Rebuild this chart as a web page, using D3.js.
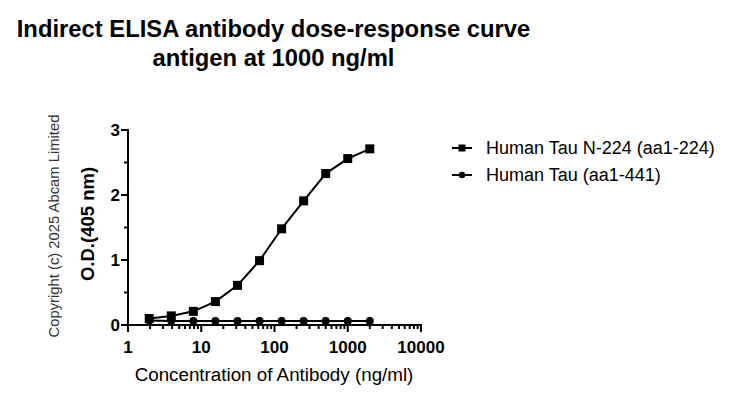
<!DOCTYPE html>
<html>
<head>
<meta charset="utf-8">
<script src="https://cdn.jsdelivr.net/npm/d3@7"></script>
<style>
  body { margin: 0; background: #fff; }
  text { font-family: Arial, "Liberation Sans", sans-serif; }
</style>
</head>
<body>
<div id="container"></div>
<script>
// concentrations (ng/ml), 2-fold dilution from 2000
const concentrations = [1.95, 3.9, 7.8, 15.6, 31.25, 62.5, 125, 250, 500, 1000, 2000];
const tauN224 = [0.10, 0.14, 0.21, 0.36, 0.61, 0.99, 1.48, 1.91, 2.33, 2.56, 2.71];
const tauFull = [0.07, 0.06, 0.06, 0.06, 0.06, 0.06, 0.06, 0.06, 0.06, 0.06, 0.06];
const seriesNames = ["Human Tau N-224 (aa1-224)", "Human Tau (aa1-441)"];
const xTicks = [1, 10, 100, 1000, 10000];
const yTicks = [0, 1, 2, 3];

const width = 730, height = 397;
const plotLeft = 128, plotRight = 421, plotTop = 130, plotBottom = 325;

const svg = d3.select("#container").append("svg")
  .attr("width", width).attr("height", height);

const xScale = d3.scaleLog().domain([1, 10000]).range([plotLeft, plotRight]);
const yScale = d3.scaleLinear().domain([0, 3]).range([plotBottom, plotTop]);

// title
svg.append("text").attr("x", 273.5).attr("y", 37).attr("text-anchor", "middle")
  .attr("font-size", 23.8).attr("font-weight", "bold")
  .text("Indirect ELISA antibody dose-response curve");
svg.append("text").attr("x", 273.5).attr("y", 66).attr("text-anchor", "middle")
  .attr("font-size", 23.8).attr("font-weight", "bold")
  .text("antigen at 1000 ng/ml");

// x axis
const minorX = [];
for (let d = 1; d < 10000; d *= 10) for (let k = 2; k <= 9; k++) minorX.push(d * k);

const xg = svg.append("g").attr("transform", "translate(0," + plotBottom + ")");
xg.append("line").attr("x1", plotLeft - 1).attr("x2", plotRight + 1).attr("stroke", "#000").attr("stroke-width", 2);
xg.selectAll(".minor").data(minorX).enter().append("line")
  .attr("x1", d => xScale(d)).attr("x2", d => xScale(d))
  .attr("y1", 0).attr("y2", 4).attr("stroke", "#000").attr("stroke-width", 2);
xg.selectAll(".major").data(xTicks).enter().append("line")
  .attr("x1", d => xScale(d)).attr("x2", d => xScale(d))
  .attr("y1", 0).attr("y2", 7).attr("stroke", "#000").attr("stroke-width", 2);
xg.selectAll(".lbl").data(xTicks).enter().append("text")
  .attr("x", d => xScale(d)).attr("y", 28).attr("text-anchor", "middle")
  .attr("font-size", 17).attr("font-weight", "bold").text(d => d);

// y axis
const minorY = [0.5, 1.5, 2.5];
const yg = svg.append("g").attr("transform", "translate(" + plotLeft + ",0)");
yg.append("line").attr("y1", plotTop - 1).attr("y2", plotBottom + 1).attr("stroke", "#000").attr("stroke-width", 2);
yg.selectAll(".minor").data(minorY).enter().append("line")
  .attr("y1", d => yScale(d)).attr("y2", d => yScale(d))
  .attr("x1", 0).attr("x2", -4).attr("stroke", "#000").attr("stroke-width", 2);
yg.selectAll(".major").data(yTicks).enter().append("line")
  .attr("y1", d => yScale(d)).attr("y2", d => yScale(d))
  .attr("x1", 0).attr("x2", -7).attr("stroke", "#000").attr("stroke-width", 2);
yg.selectAll(".lbl").data(yTicks).enter().append("text")
  .attr("x", -8).attr("y", d => yScale(d) + 6).attr("text-anchor", "end")
  .attr("font-size", 17).attr("font-weight", "bold").text(d => d);

// axis titles
svg.append("text").attr("x", 274).attr("y", 381).attr("text-anchor", "middle")
  .attr("font-size", 18.8).text("Concentration of Antibody (ng/ml)");
svg.append("text").attr("transform", "translate(94,224) rotate(-90)")
  .attr("text-anchor", "middle").attr("font-size", 18.5).attr("font-weight", "bold")
  .text("O.D.(405 nm)");
svg.append("text").attr("transform", "translate(59,226) rotate(-90)")
  .attr("text-anchor", "middle").attr("font-size", 14.8).attr("fill", "#333")
  .text("Copyright (c) 2025 Abcam Limited");

// series
const line = d3.line().x(d => xScale(d[0])).y(d => yScale(d[1]));
const s1 = concentrations.map((c, i) => [c, tauN224[i]]);
const s2 = concentrations.map((c, i) => [c, tauFull[i]]);

svg.append("path").datum(s2).attr("d", line).attr("fill", "none")
  .attr("stroke", "#000").attr("stroke-width", 2);
svg.selectAll(".c2").data(s2).enter().append("circle")
  .attr("cx", d => xScale(d[0])).attr("cy", d => yScale(d[1])).attr("r", 4).attr("fill", "#000");

svg.append("path").datum(s1).attr("d", line).attr("fill", "none")
  .attr("stroke", "#000").attr("stroke-width", 2);
svg.selectAll(".s1").data(s1).enter().append("rect")
  .attr("x", d => xScale(d[0]) - 4.5).attr("y", d => yScale(d[1]) - 4.5)
  .attr("width", 9).attr("height", 9).attr("fill", "#000");

// legend
const legend = svg.append("g");
const ly = [148, 175];
legend.selectAll(".ll").data(ly).enter().append("line")
  .attr("x1", 452).attr("x2", 472).attr("y1", d => d).attr("y2", d => d)
  .attr("stroke", "#000").attr("stroke-width", 2);
legend.append("rect").attr("x", 458.5).attr("y", ly[0] - 3.5).attr("width", 7).attr("height", 7).attr("fill", "#000");
legend.append("circle").attr("cx", 462).attr("cy", ly[1]).attr("r", 3.2).attr("fill", "#000");
legend.selectAll(".lt").data(seriesNames).enter().append("text")
  .attr("x", 486).attr("y", (d, i) => ly[i] + 6).attr("font-size", 18).text(d => d);
</script>
</body>
</html>
